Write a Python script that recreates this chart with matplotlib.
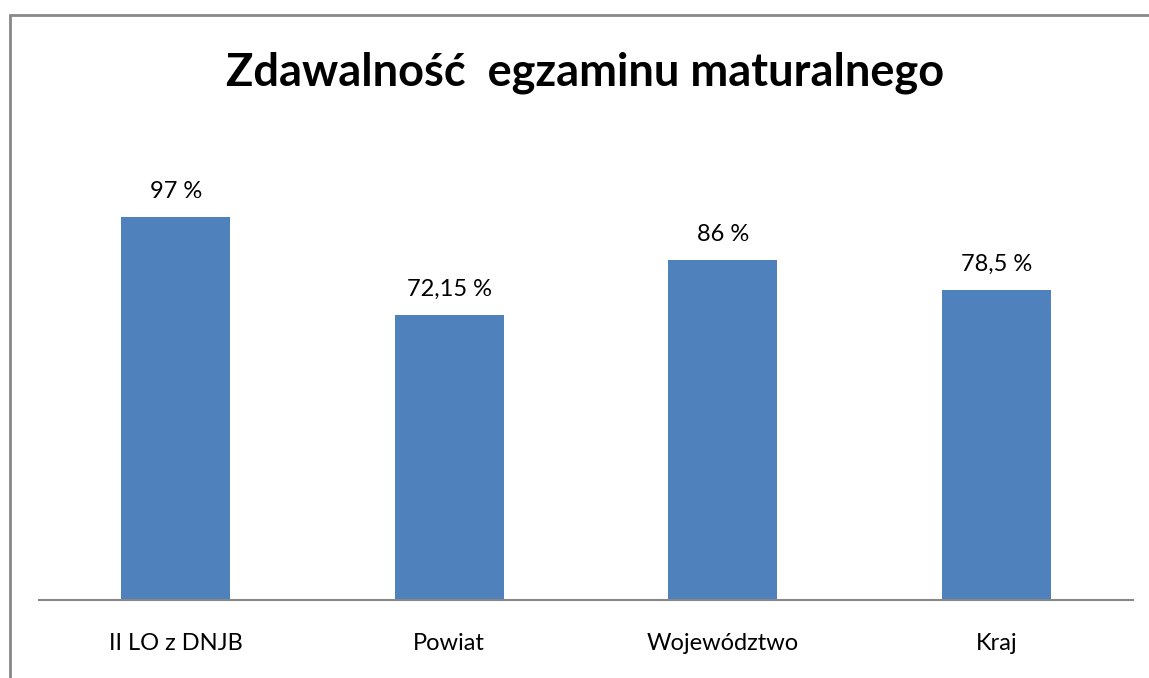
import matplotlib
matplotlib.use("Agg")
import matplotlib.pyplot as plt
from matplotlib.patches import Rectangle

categories = ["II LO z DNJB", "Powiat", "Województwo", "Kraj"]
values = [97, 72.15, 86, 78.5]
value_labels = ["97 %", "72,15 %", "86 %", "78,5 %"]
title = "Zdawalność  egzaminu maturalnego"

plt.rcParams['font.family'] = ['Lato', 'DejaVu Sans']

W, H = 1149, 678
fig = plt.figure(figsize=(W/100, H/100), dpi=100)
fig.patch.set_facecolor('white')

# outer frame (cropped at right and bottom)
fig.patches.append(Rectangle((9.5/W, -0.1), 1.2, (H - 15)/H + 0.1,
                             transform=fig.transFigure, fill=False,
                             edgecolor='#888888', linewidth=2))

ax_left, ax_right = 39/W, 1133/W
ax_bottom = (H - 600)/H
ax_top = (H - 126)/H
ax = fig.add_axes([ax_left, ax_bottom, ax_right - ax_left, ax_top - ax_bottom])

x = list(range(len(categories)))
bars = ax.bar(x, values, width=0.4, color='#4F81BD')
ax.set_xlim(-0.5, len(categories) - 0.5)
ax.set_ylim(0, 120)

for rect, lab in zip(bars, value_labels):
    ax.annotate(lab, (rect.get_x() + rect.get_width()/2, rect.get_height()),
                xytext=(0, 11), textcoords='offset points', ha='center', va='bottom',
                fontsize=17, color='black')

ax.set_xticks(x)
ax.set_xticklabels(categories, fontsize=17)
ax.tick_params(axis='x', length=0, pad=24)
ax.set_yticks([])
for s in ['top', 'right', 'left']:
    ax.spines[s].set_visible(False)
ax.spines['bottom'].set_color('#888888')
ax.spines['bottom'].set_linewidth(1.5)

fig.text(585/W, (H - 73)/H, title, ha='center', va='center',
         fontsize=32.5, fontweight='bold', color='black')

fig.savefig('out.png', dpi=100)
